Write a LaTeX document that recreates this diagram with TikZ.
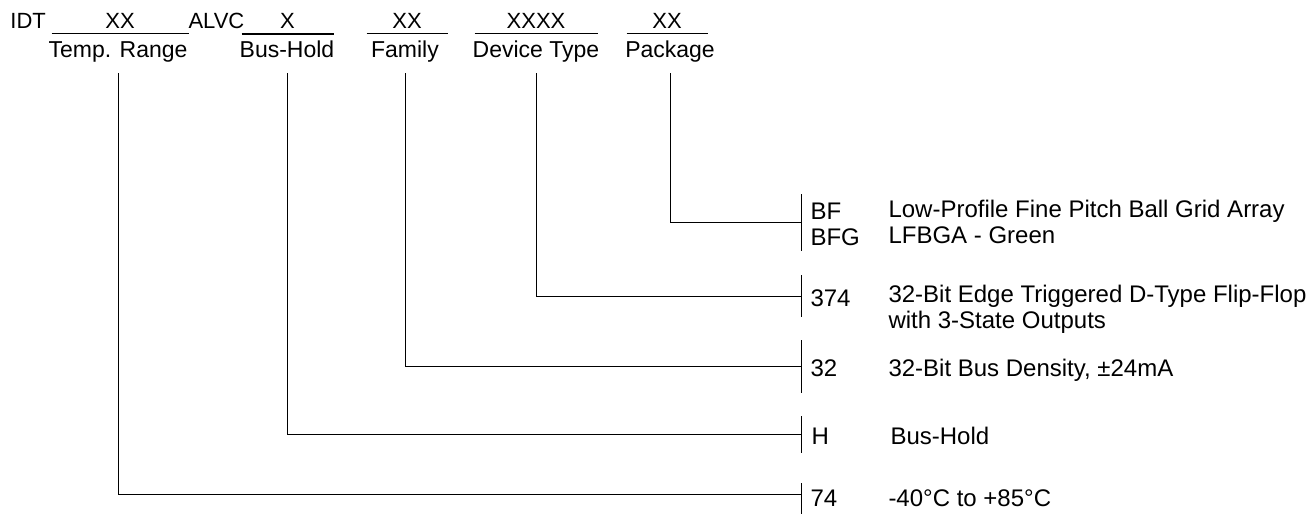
\documentclass[tikz,border=0pt]{standalone}
\usepackage{fontspec}
\setmainfont{Liberation Sans}
\usepackage{tikz}
\usetikzlibrary{positioning}

\newcommand\codetext{\fontsize{11}{13}\selectfont}
\newcommand\captext{\fontsize{11.5}{13}\selectfont}
\newcommand\optext{\fontsize{12}{12.75}\selectfont}

\begin{document}
\begin{tikzpicture}[
    x=0.5pt, y=-0.5pt, line width=0.5pt,
    field/.style={anchor=base, inner xsep=0pt, inner ysep=2.5pt,
                  minimum width=#1, font=\codetext},
    caption/.style={anchor=base, inner sep=0pt, font=\captext},
    code/.style={anchor=base west, inner sep=0pt, align=left, font=\optext},
    desc/.style={anchor=base west, inner sep=0pt, align=left, font=\optext}
]
\useasboundingbox (0,0) rectangle (1308,514);

% part number fields
\node[anchor=base west, inner sep=0pt, font=\codetext] (idt)  at (10,28)  {IDT};
\node[field=68pt]                (ftemp) at (120,28) {XX};
\node[anchor=base west, inner sep=0pt, font=\codetext] (alvc) at (188,28) {ALVC};
\node[field=45.5pt]              (fbus) at (287.5,28) {X};
\node[field=40pt]                (ffam) at (407,28) {XX};
\node[field=61pt]                (fdev) at (536,28) {XXXX};
\node[field=40pt]                (fpkg) at (667,28) {XX};

\foreach \f in {ftemp,ffam,fdev,fpkg}
  \draw (\f.south west) -- (\f.south east);
\draw[line width=1pt] (fbus.south west) -- (fbus.south east);

\node[caption] (ltemp) at (118,57) {Temp. Range};
\node[caption] (lbus)  at (287,57) {Bus-Hold};
\node[caption] (lfam)  at (405,57) {Family};
\node[caption] (ldev)  at (536,57) {Device Type};
\node[caption] (lpkg)  at (670,57) {Package};

% options
\coordinate (top)  at (0,73);
\coordinate (jpkg) at (801,222);
\coordinate (jdev) at (801,296);
\coordinate (jfam) at (801,366);
\coordinate (jbus) at (801,434);
\coordinate (jtmp) at (801,494);

\foreach \j/\up/\len in {jpkg/28/57, jdev/21/42, jfam/26/53, jbus/18/37, jtmp/11/31}
  \draw (\j) ++(0,-\up) -- ++(0,\len);

\node[code] (cpkg) at (810,245) {BF\\BFG};
\node[desc] (dpkg) at (888,243) {Low-Profile Fine Pitch Ball Grid Array\\LFBGA - Green};
\node[code] (cdev) at (810,306) {374};
\node[desc] (ddev) at (888,328) {32-Bit Edge Triggered D-Type Flip-Flop\\with 3-State Outputs};
\node[code] (cfam) at (810,376) {32};
\node[desc] (dfam) at (888,376) {32-Bit Bus Density, ±24mA};
\node[code] (cbus) at (811,444) {H};
\node[desc] (dbus) at (890,444) {Bus-Hold};
\node[code] (ctmp) at (810,506) {74};
\node[desc] (dtmp) at (888,506) {-40°C to +85°C};

% connectors
\draw (lpkg.south |- top) |- (jpkg);
\draw (ldev.south |- top) |- (jdev);
\draw (lfam.south |- top) |- (jfam);
\draw (lbus.south |- top) |- (jbus);
\draw (ltemp.south |- top) |- (jtmp);
\end{tikzpicture}
\end{document}
